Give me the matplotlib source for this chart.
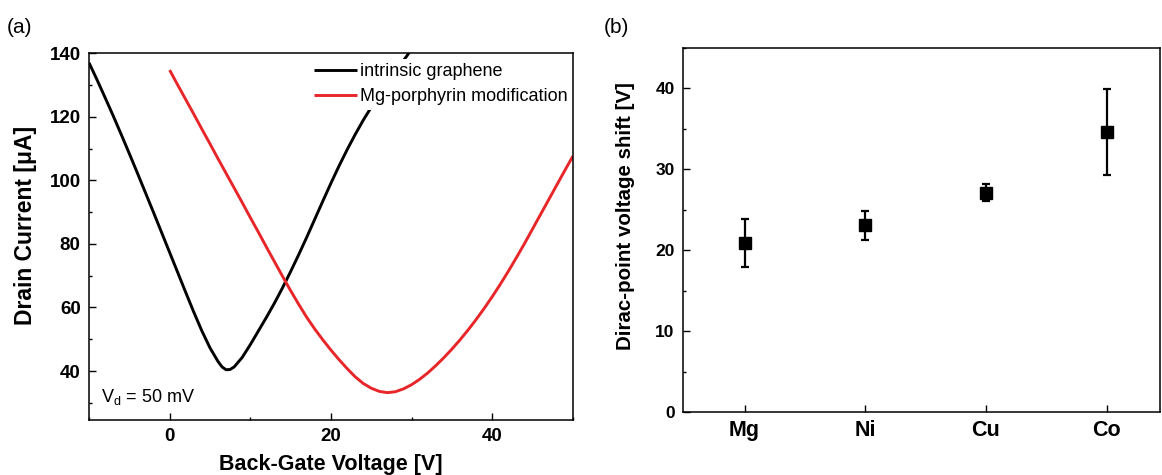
import matplotlib
matplotlib.use("Agg")
import matplotlib.pyplot as plt
from matplotlib.ticker import MultipleLocator

plt.rcParams['font.family'] = ['Liberation Sans', 'DejaVu Sans']
plt.rcParams['mathtext.fontset'] = 'custom'
plt.rcParams['mathtext.rm'] = 'Liberation Sans'
plt.rcParams['mathtext.it'] = 'Liberation Sans:italic'

# ---- panel (a) data ----
vg_intrinsic = [-10, -9, -8, -7, -6, -5, -4, -3, -2, -1, 0, 1, 2, 3, 4, 5, 6,
                6.5, 7, 7.5, 8, 9, 10, 11, 12, 13, 14, 15, 16, 17, 18, 19, 20,
                21, 22, 23, 24, 25, 26, 27, 28, 29, 30]
id_intrinsic = [137.0, 131.6, 126.0, 120.3, 114.4, 108.4, 102.3, 96.1, 89.9,
                83.6, 77.3, 71.0, 64.7, 58.5, 52.6, 47.3, 43.0, 41.3, 40.4,
                40.5, 41.3, 44.3, 48.3, 52.6, 56.9, 61.4, 66.2, 71.3, 76.6,
                82.1, 87.8, 93.5, 99.1, 104.5, 109.6, 114.4, 118.9, 123.0,
                126.9, 130.6, 134.2, 137.7, 141.2]

vg_mg = [0, 1, 2, 3, 4, 5, 6, 7, 8, 9, 10, 11, 12, 13, 14, 15, 16, 17, 18, 19,
         20, 21, 22, 23, 24, 25, 26, 27, 28, 29, 30, 31, 32, 33, 34, 35, 36, 37,
         38, 39, 40, 41, 42, 43, 44, 45, 46, 47, 48, 49, 50]
id_mg = [134.7, 130.0, 125.4, 120.8, 116.1, 111.5, 106.8, 102.2, 97.6, 93.0,
         88.3, 83.7, 79.0, 74.4, 69.8, 65.3, 61.0, 56.9, 53.2, 49.8, 46.6, 43.6,
         40.8, 38.2, 36.1, 34.6, 33.6, 33.2, 33.5, 34.4, 35.7, 37.4, 39.4, 41.7,
         44.2, 46.9, 49.8, 52.9, 56.2, 59.7, 63.4, 67.3, 71.4, 75.7, 80.1, 84.7,
         89.3, 93.9, 98.5, 103.1, 107.6]

# ---- panel (b) data ----
metals = ['Mg', 'Ni', 'Cu', 'Co']
shift = [20.9, 23.1, 27.1, 34.6]
shift_err = [3.0, 1.8, 1.05, 5.3]

fig = plt.figure(figsize=(11.62, 4.75), dpi=100)

# ---------- (a) ----------
ax1 = fig.add_axes([0.0766, 0.1158, 0.4164, 0.7722])
ax1.plot(vg_intrinsic, id_intrinsic, color='black', lw=2.1, label='intrinsic graphene',
         solid_capstyle='butt', solid_joinstyle='round')
ax1.plot(vg_mg, id_mg, color='#e8262a', lw=2.1, label='Mg-porphyrin modification',
         solid_capstyle='butt', solid_joinstyle='round')
ax1.set_xlim(-10, 50)
ax1.set_ylim(24.6, 140)
ax1.xaxis.set_major_locator(MultipleLocator(20))
ax1.xaxis.set_minor_locator(MultipleLocator(10))
ax1.yaxis.set_major_locator(MultipleLocator(20))
ax1.yaxis.set_minor_locator(MultipleLocator(10))
ax1.set_yticks([40, 60, 80, 100, 120, 140])
ax1.tick_params(which='both', direction='in', top=False, right=False)
ax1.tick_params(which='major', length=5, width=1, labelsize=13.5, pad=6)
ax1.tick_params(which='minor', length=2.5, width=1)
for lab in ax1.get_xticklabels() + ax1.get_yticklabels():
    lab.set_fontweight('bold')
ax1.set_xlabel('Back-Gate Voltage [V]', fontsize=15.5, fontweight='bold', labelpad=6)
ax1.set_ylabel('Drain Current [\u03bcA]', fontsize=16.5, fontweight='bold')
ax1.yaxis.set_label_coords(-0.107, 0.531)
for s in ax1.spines.values():
    s.set_linewidth(1.1)
leg = ax1.legend(loc='upper right', bbox_to_anchor=(1.004, 0.992), fontsize=13,
                 frameon=True, fancybox=False,
                 edgecolor='none', facecolor='white', framealpha=1,
                 handlelength=2.4, handletextpad=0.15, borderpad=0.25,
                 borderaxespad=0.15, labelspacing=0.45)
ax1.text(-8.5, 31.8, r'V$_\mathrm{d}$ = 50 mV', fontsize=13, va='center', ha='left')

fig.text(0.006, 0.943, '(a)', fontsize=15, va='center', ha='left')

# ---------- (b) ----------
ax2 = fig.add_axes([0.5878, 0.1326, 0.4102, 0.7664])
xpos = list(range(1, len(metals) + 1))
ax2.errorbar(xpos, shift, yerr=shift_err, fmt='s', color='black', ms=8.5,
             elinewidth=1.6, capsize=3, capthick=1.6)
ax2.set_xlim(0.49, 4.44)
ax2.set_ylim(0, 45)
ax2.set_xticks(xpos)
ax2.set_xticklabels(metals)
ax2.yaxis.set_major_locator(MultipleLocator(10))
ax2.yaxis.set_minor_locator(MultipleLocator(5))
ax2.set_yticks([0, 10, 20, 30, 40])
ax2.tick_params(which='both', direction='in', top=False, right=False)
ax2.tick_params(axis='x', which='major', length=5, width=1, labelsize=15.5, pad=6)
ax2.tick_params(axis='y', which='major', length=5, width=1, labelsize=12.5, pad=6)
ax2.tick_params(which='minor', length=2.5, width=1)
for lab in ax2.get_xticklabels() + ax2.get_yticklabels():
    lab.set_fontweight('bold')
ax2.set_ylabel('Dirac-point voltage shift [V]', fontsize=14.8, fontweight='bold')
ax2.yaxis.set_label_coords(-0.10, 0.538)
for s in ax2.spines.values():
    s.set_linewidth(1.1)

fig.text(0.520, 0.943, '(b)', fontsize=15, va='center', ha='left')

fig.savefig('out.png', dpi=100)
